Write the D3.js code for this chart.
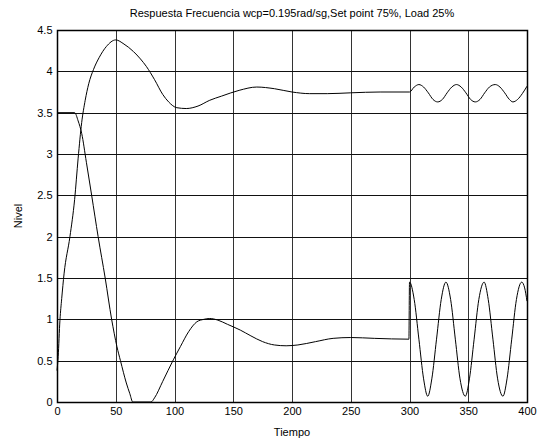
<!DOCTYPE html>
<html>
<head>
<meta charset="utf-8">
<script src="https://cdn.jsdelivr.net/npm/d3@7"></script>
<style>
  body { margin: 0; background: #fff; }
  text { font-family: "Liberation Sans", Arial, sans-serif; }
</style>
</head>
<body>
<div class="chart"></div>
<script>
// nivel (respuesta)
const tA = [0, 1, 2.5, 4, 6, 11, 15, 18, 21, 24, 27, 31, 36, 42, 50, 57, 65, 71, 76, 83, 90, 95, 102, 110, 120, 130, 140, 155, 170, 185, 200, 215, 230, 250, 275, 300,
  304, 308, 312, 316, 320, 324, 328, 332, 336, 340, 344, 348, 352, 356, 360, 364, 368, 373, 377, 381, 385, 388, 392, 396, 400]
const yA = [0.38, 0.55, 0.99, 1.25, 1.55, 2.0, 2.45, 2.95, 3.38, 3.65, 3.85, 4.02, 4.17, 4.3, 4.38, 4.33, 4.24, 4.15, 4.06, 3.9, 3.72, 3.63, 3.56, 3.55, 3.58, 3.65, 3.7, 3.77, 3.81, 3.79, 3.75, 3.73, 3.73, 3.74, 3.75, 3.75,
  3.81, 3.84, 3.81, 3.74, 3.66, 3.63, 3.66, 3.74, 3.81, 3.84, 3.81, 3.74, 3.66, 3.63, 3.66, 3.74, 3.81, 3.84, 3.81, 3.74, 3.66, 3.63, 3.66, 3.73, 3.82]
// control
const tB = [0, 15, 18, 21, 25, 29.5, 35, 41, 46.5, 51, 54, 59, 62, 64.5, 80, 83, 90, 99, 105, 112, 119, 125, 130, 137, 145, 156, 165, 175, 185, 195, 205, 220, 235, 250, 270, 299.5,
  300, 304, 308, 312, 315.5, 319, 323, 327, 331, 335, 339, 343, 347.5, 351, 355, 359, 363.5, 367, 371, 375, 379.5, 383, 387, 391, 395.5, 398, 400]
const yB = [3.5, 3.5, 3.4, 3.25, 2.9, 2.5, 2.0, 1.5, 1.0, 0.67, 0.5, 0.23, 0.1, 0, 0, 0.05, 0.25, 0.51, 0.67, 0.85, 0.97, 1.0, 1.01, 0.99, 0.94, 0.87, 0.8, 0.73, 0.69, 0.68, 0.69, 0.73, 0.77, 0.78, 0.77, 0.76,
  1.45, 1.24, 0.76, 0.28, 0.07, 0.28, 0.76, 1.24, 1.45, 1.24, 0.76, 0.28, 0.07, 0.28, 0.76, 1.24, 1.45, 1.24, 0.76, 0.28, 0.07, 0.28, 0.76, 1.24, 1.45, 1.38, 1.22]

const xTicks = [0, 50, 100, 150, 200, 250, 300, 350, 400]
const yTicks = [0, 0.5, 1, 1.5, 2, 2.5, 3, 3.5, 4, 4.5]

const width = 544
const height = 443
const m = {left: 57, top: 30, right: 17, bottom: 41}

const svg = d3.select('.chart')
  .append('svg')
  .attr('width', width)
  .attr('height', height)

const x = d3.scaleLinear().domain([0, 400]).range([m.left, width - m.right])
const y = d3.scaleLinear().domain([0, 4.5]).range([height - m.bottom, m.top])

// grid
svg.append('g')
  .selectAll('line')
  .data(xTicks)
  .enter()
  .append('line')
  .attr('x1', d => Math.round(x(d)) + 0.5)
  .attr('x2', d => Math.round(x(d)) + 0.5)
  .attr('y1', y(0))
  .attr('y2', y(4.5))
  .attr('stroke', '#333')
svg.append('g')
  .selectAll('line')
  .data(yTicks)
  .enter()
  .append('line')
  .attr('y1', d => Math.round(y(d)) + 0.5)
  .attr('y2', d => Math.round(y(d)) + 0.5)
  .attr('x1', x(0))
  .attr('x2', x(400))
  .attr('stroke', '#111')

// axes
const xAxis = svg.append('g')
  .attr('transform', `translate(0,${Math.round(y(0)) + 0.5})`)
  .call(d3.axisBottom(x).tickValues(xTicks).tickSize(0).tickPadding(5))
const yAxis = svg.append('g')
  .attr('transform', `translate(${Math.round(x(0)) + 0.5},0)`)
  .call(d3.axisLeft(y).tickValues(yTicks).tickSize(0).tickPadding(5).tickFormat(d3.format('')))
;[xAxis, yAxis].forEach(a => {
  a.select('.domain').remove()
  a.selectAll('text').attr('font-size', 11).attr('fill', '#000')
    .style('font-family', '"Liberation Sans", Arial, sans-serif')
})

// box
svg.append('rect')
  .attr('x', Math.round(x(0)) + 0.5)
  .attr('y', Math.round(y(4.5)) + 0.5)
  .attr('width', Math.round(x(400)) - Math.round(x(0)))
  .attr('height', Math.round(y(0)) - Math.round(y(4.5)))
  .attr('fill', 'none')
  .attr('stroke', '#000')
  .attr('stroke-width', 1.5)

// curves
const line = d3.line()
  .x(d => x(d[0]))
  .y(d => y(d[1]))
  .curve(d3.curveMonotoneX)
svg.append('path')
  .datum(tA.map((t, i) => [t, yA[i]]))
  .attr('d', line)
  .attr('fill', 'none')
  .attr('stroke', '#000')
  .attr('stroke-width', 1)
svg.append('path')
  .datum(tB.map((t, i) => [t, yB[i]]))
  .attr('d', line)
  .attr('fill', 'none')
  .attr('stroke', '#000')
  .attr('stroke-width', 1)

// labels
svg.append('text')
  .attr('x', (x(0) + x(400)) / 2)
  .attr('y', 17)
  .attr('text-anchor', 'middle')
  .attr('font-size', 11)
  .text('Respuesta Frecuencia wcp=0.195rad/sg,Set point 75%, Load 25%')
svg.append('text')
  .attr('x', (x(0) + x(400)) / 2)
  .attr('y', 436)
  .attr('text-anchor', 'middle')
  .attr('font-size', 11)
  .text('Tiempo')
svg.append('text')
  .attr('transform', `translate(22,${(y(0) + y(4.5)) / 2}) rotate(-90)`)
  .attr('text-anchor', 'middle')
  .attr('font-size', 11)
  .text('Nivel')
</script>
</body>
</html>
